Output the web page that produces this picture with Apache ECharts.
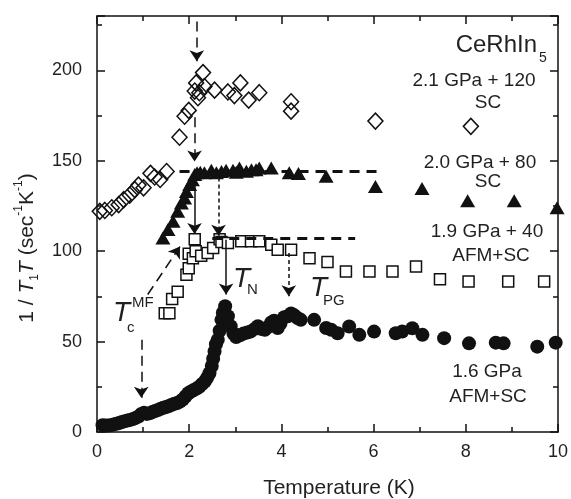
<!DOCTYPE html>
<html><head><meta charset="utf-8">
<script src="https://cdn.jsdelivr.net/npm/echarts@6/dist/echarts.min.js"></script>
<style>html,body{margin:0;padding:0;background:#fff}#c{width:571px;height:499px}</style>
</head><body><div id="c"></div>
<script>
// ---- data: [Temperature (K), 1/T1T (sec^-1 K^-1)] ----
const diamonds21 = [[0.06,122],[0.17,122.5],[0.32,124],[0.47,125.7],[0.58,128.5],[0.71,131],[0.82,134],[0.9,136.5],[1.01,135],[1.16,143],[1.25,141],[1.37,139.6],[1.51,144],[1.79,163],[1.90,174.6],[1.99,177.8],[2.12,188.5],[2.15,193],[2.19,184.8],[2.22,187.6],[2.30,198.7],[2.33,191],[2.55,189],[2.84,188],[2.98,186],[3.11,193],[3.29,183.5],[3.52,187.6],[4.21,182.6],[4.21,177.4],[6.04,171.9],[8.11,169]];
const triangles20 = [[1.43,107.3],[1.54,111.9],[1.65,116.5],[1.75,122],[1.83,126.6],[1.90,129.4],[1.94,133],[2.01,136.8],[2.07,139.5],[2.12,142.3],[2.17,143.3],[2.24,143.6],[2.33,143.3],[2.48,144.7],[2.59,143.3],[2.70,144],[2.80,144.7],[2.95,144.7],[3.02,143.6],[3.09,146],[3.24,144.2],[3.35,145],[3.45,145],[3.52,146],[3.78,146],[4.17,143.3],[4.37,142.9],[4.97,141.4],[6.04,135.8],[7.05,134.6],[8.04,127.9],[9.05,127.9],[9.98,124]];
const squares19 = [[1.47,65.7],[1.57,65.7],[1.63,73.5],[1.75,77.5],[1.94,87],[1.99,90.6],[1.99,98.5],[2.08,96],[2.12,106.5],[2.14,100],[2.26,97.5],[2.40,99],[2.52,101.7],[2.66,106.5],[2.70,105],[2.84,104.5],[3.13,105.4],[3.34,105.4],[3.52,105.4],[3.78,103.5],[3.92,100.8],[4.21,100.8],[4.61,96],[5.0,94],[5.40,88.8],[5.91,88.8],[6.41,88.8],[6.92,91.5],[7.44,84.5],[8.06,83.2],[8.92,83.2],[9.70,83.2]];
const circles16 = [[0.12,3.8],[0.18,3.6],[0.24,3.6],[0.30,3.8],[0.36,4.2],[0.42,4.6],[0.48,5.0],[0.54,5.5],[0.60,6.0],[0.66,6.3],[0.72,6.7],[0.78,7.2],[0.84,7.8],[0.90,8.6],[0.96,10.0],[1.02,10.6],[1.08,10.0],[1.14,10.4],[1.20,11.0],[1.26,11.6],[1.32,12.2],[1.38,12.8],[1.44,13.4],[1.50,13.8],[1.56,14.4],[1.62,15.0],[1.68,15.6],[1.74,16.0],[1.80,16.8],[1.86,18.0],[1.92,19.6],[1.98,21.4],[2.04,22.4],[2.10,23.2],[2.16,24.0],[2.22,25.0],[2.28,26.5],[2.34,28.0],[2.39,30.0],[2.44,32.5],[2.49,36.5],[2.52,40.5],[2.55,44.5],[2.58,48.5],[2.62,51],[2.66,56],[2.70,62],[2.73,66],[2.78,69.5],[2.84,64],[2.90,58.5],[2.96,54.5],[3.02,52.5],[3.10,53.5],[3.18,54.5],[3.26,55],[3.33,55.5],[3.42,57],[3.49,58.5],[3.56,57],[3.64,56.5],[3.71,58],[3.78,60.5],[3.84,61.5],[3.92,57.5],[3.98,60],[4.06,63.5],[4.14,64],[4.21,65.5],[4.28,64.5],[4.35,63],[4.42,62],[4.71,62],[4.97,57.5],[5.08,56.5],[5.22,54.6],[5.47,58.3],[5.69,53.7],[6.01,55.5],[6.48,54.6],[6.62,55.5],[6.84,57.4],[7.06,53.7],[7.53,51.9],[8.07,49],[8.65,49.4],[8.82,49],[9.55,47.2],[9.95,49.4]];

// annotation arrows / guide lines: [x1, y1, x2, y2] in data units
const arrowsLongDash = [[2.165,227,2.165,205],[2.116,174,2.116,149.5],[1.10,76,1.80,102.5],[0.96,51,0.96,19]];
const arrowsSolid = [[2.116,138,2.116,109.5],[2.80,106.3,2.80,76]];
const arrowsDotted = [[2.636,140.7,2.636,108.5],[4.16,99,4.16,75]];
const guideLines = [[1.79,144.2,6.2,144.2],[2.5,107.2,5.6,107.2]];

const xTicks = {min:0, max:10, interval:2};
const yTicks = {min:0, max:230, interval:50};

const FONT = "'Liberation Sans', Arial, Helvetica, sans-serif";
const TXT = '#231f20';

function mk(lines, arrow, dash, width){
  return lines.map(l => [
    {coord:[l[0],l[1]], symbol:'none', lineStyle:{type:dash, width:width, color:'#111'}},
    {coord:[l[2],l[3]], symbol: arrow ? 'arrow' : 'none'}
  ]);
}
function axisX(pos, showLabel){
  return {type:'value', min:xTicks.min, max:xTicks.max, interval:xTicks.interval, position:pos,
    axisLine:{show:true, onZero:false, lineStyle:{color:'#111', width:1.5}},
    axisTick:{show:true, inside:true, length:8, lineStyle:{color:'#111', width:1.5}},
    minorTick:{show:true, splitNumber:2, length:5, lineStyle:{color:'#111', width:1.5}},
    splitLine:{show:false}, minorSplitLine:{show:false},
    axisLabel:{show:showLabel, fontSize:18, color:TXT, fontFamily:FONT, margin:11}};
}
function axisY(pos, showLabel){
  return {type:'value', min:yTicks.min, max:yTicks.max, interval:yTicks.interval, position:pos,
    axisLine:{show:true, onZero:false, lineStyle:{color:'#111', width:1.5}},
    axisTick:{show:true, inside:true, length:8, lineStyle:{color:'#111', width:1.5}},
    minorTick:{show:true, splitNumber:2, length:5, lineStyle:{color:'#111', width:1.5}},
    splitLine:{show:false}, minorSplitLine:{show:false},
    axisLabel:{show:showLabel, showMaxLabel:false, fontSize:18, color:TXT, fontFamily:FONT, margin:15}};
}
function txt(x, y, text, size, opts){
  return Object.assign({type:'text', x:x, y:y, silent:true, z:100,
    style:Object.assign({text:text, fill:TXT, font: size+'px '+FONT,
      align:'center', verticalAlign:'middle', textAlign:'center', textVerticalAlign:'middle'}, (opts&&opts.style)||{})},
    (opts&&opts.el)||{});
}

const chart = echarts.init(document.getElementById('c'), null, {renderer:'canvas'});
chart.setOption({
  animation:false,
  backgroundColor:'#fff',
  grid:{left:97, right:12, top:16, bottom:67, containLabel:false},
  xAxis:[axisX('bottom', true), axisX('top', false)],
  yAxis:[axisY('left', true), axisY('right', false)],
  series:[
    {type:'line', data:[], silent:true, markLine:{silent:true, animation:false, symbolSize:11, label:{show:false}, emphasis:{disabled:true}, data: mk(arrowsLongDash, true, [10,6], 1.5)}},
    {type:'line', data:[], silent:true, markLine:{silent:true, animation:false, symbolSize:11, label:{show:false}, emphasis:{disabled:true}, data: mk(arrowsSolid, true, 'solid', 1.5)}},
    {type:'line', data:[], silent:true, markLine:{silent:true, animation:false, symbolSize:11, label:{show:false}, emphasis:{disabled:true}, data: mk(arrowsDotted, true, [4,3], 1.5)}},
    {type:'line', data:[], silent:true, markLine:{silent:true, animation:false, symbolSize:11, label:{show:false}, emphasis:{disabled:true}, data: mk(guideLines, false, [10,7], 3)}},
    {name:'2.1 GPa', type:'scatter', data:diamonds21, symbol:'diamond', symbolSize:[15,16],
      itemStyle:{color:'rgba(0,0,0,0)', borderColor:'#111', borderWidth:1.5, opacity:1}, emphasis:{disabled:true}, z:3},
    {name:'2.0 GPa', type:'scatter', data:triangles20, symbol:'triangle', symbolSize:[15,13],
      itemStyle:{color:'#111', opacity:1}, emphasis:{disabled:true}, z:3},
    {name:'1.9 GPa', type:'scatter', data:squares19, symbol:'rect', symbolSize:11,
      itemStyle:{color:'#fff', borderColor:'#111', borderWidth:1.5, opacity:1}, emphasis:{disabled:true}, z:4},
    {name:'1.6 GPa', type:'scatter', data:circles16, symbol:'circle', symbolSize:14,
      itemStyle:{color:'#111', opacity:1}, emphasis:{disabled:true}, z:4}
  ],
  graphic:[
    txt(339, 488, 'Temperature (K)', 21),
    {type:'text', x:27, y:248, rotation:Math.PI/2, silent:true, z:100,
      style:{text:'{n|1 / }{i|T}{b|1}{i|T}{n| (sec}{p|-1}{n|K}{p|-1}{n|)}', fill:TXT, font:'21px '+FONT,
        align:'center', verticalAlign:'middle', textAlign:'center', textVerticalAlign:'middle',
        rich:{n:{fontSize:21, fontFamily:FONT, lineHeight:28, fill:TXT},
              i:{fontSize:21, fontFamily:FONT, fontStyle:'italic', lineHeight:28, fill:TXT},
              b:{fontSize:12, fontFamily:FONT, lineHeight:12, verticalAlign:'bottom', fill:TXT},
              p:{fontSize:12, fontFamily:FONT, lineHeight:12, verticalAlign:'top', fill:TXT}}}},
    txt(537, 45, 'CeRhIn', 24, {style:{align:'right', textAlign:'right'}}),
    txt(539, 58, '5', 14, {style:{align:'left', textAlign:'left'}}),
    txt(474, 81, '2.1 GPa + 120', 19),
    txt(488, 103, 'SC', 19),
    txt(480, 163, '2.0 GPa + 80', 19),
    txt(488, 182, 'SC', 19),
    txt(487, 232, '1.9 GPa + 40', 19),
    txt(491, 256, 'AFM+SC', 19),
    txt(487, 372, '1.6 GPa', 19),
    txt(488, 397, 'AFM+SC', 19),
    // T_N
    txt(233, 279, 'T', 28, {style:{align:'left', textAlign:'left', font:'italic 28px '+FONT}}),
    txt(247, 290, 'N', 15, {style:{align:'left', textAlign:'left'}}),
    // T_PG
    txt(310, 288, 'T', 28, {style:{align:'left', textAlign:'left', font:'italic 28px '+FONT}}),
    txt(323, 301, 'PG', 15, {style:{align:'left', textAlign:'left'}}),
    // T_c^MF
    txt(113, 313, 'T', 28, {style:{align:'left', textAlign:'left', font:'italic 28px '+FONT}}),
    txt(127, 328, 'c', 15, {style:{align:'left', textAlign:'left'}}),
    txt(132, 303, 'MF', 15, {style:{align:'left', textAlign:'left'}})
  ]
});
</script>
</body></html>
